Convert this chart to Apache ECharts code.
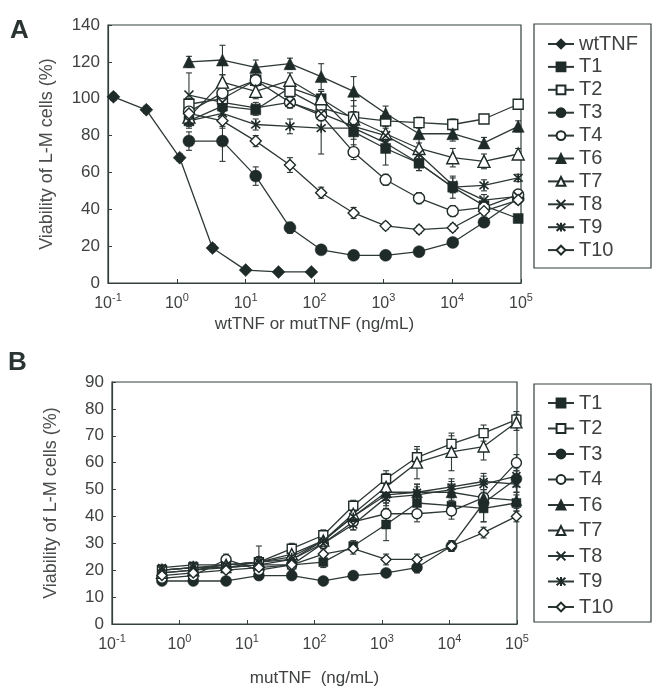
<!DOCTYPE html>
<html>
<head>
<meta charset="utf-8">
<script src="https://cdn.jsdelivr.net/npm/echarts@6/dist/echarts.min.js"></script>
<style>
html, body { margin: 0; padding: 0; background: #fff; }
#chart { width: 653px; height: 692px; }
</style>
</head>
<body>
<div id="chart"></div>
<script>
// ---- panel A data ----
var wtX = [0.12, 0.36, 1.1, 3.3, 10, 30, 90];
var wtY = [101, 94, 68, 19, 7, 6, 6];
var wtErr = [2, 2, 2, 2, 1, 1, 1];

var xA = [1.5, 4.6, 14, 44, 125, 370, 1080, 3300, 10200, 29000, 91000];
var aT1 = [88, 96, 94, 106, 100, 82, 73, 65, 52, 42, 35];
var aT2 = [97, 100, 110, 104, 95, 90, 88, 87, 86, 89, 97];
var aT3 = [77, 77, 58, 30, 18, 15, 15, 17, 22, 33, 46];
var aT4 = [93, 103, 110, 98, 91, 71, 56, 46, 39, 41, 48];
var aT6 = [120, 121, 117, 119, 112, 104, 92, 81, 81, 76, 85];
var aT7 = [90, 109, 104, 110, 100, 89, 81, 73, 68, 66, 70];
var aT8 = [102, 98, 95, 98, 92, 85, 80, 70, 53, 45, 47];
var aT9 = [88, 92, 86, 85, 84, 84, 76, 65, 52, 53, 57];
var aT10 = [92, 88, 77, 64, 49, 38, 31, 29, 30, 39, 45];

var eT1 = [3, 3, 3, 4, 4, 4, 9, 4, 3, 3, 2];
var eT2 = [3, 3, 3, 3, 3, 3, 3, 3, 3, 2, 2];
var eT3 = [5, 11, 5, 3, 2, 2, 2, 2, 2, 2, 2];
var eT4 = [3, 3, 3, 3, 3, 4, 3, 3, 3, 3, 2];
var eT6 = [3, 8, 4, 3, 7, 8, 4, 8, 4, 3, 3];
var eT7 = [3, 4, 4, 4, 4, 4, 4, 3, 5, 4, 3];
var eT8 = [12, 3, 3, 3, 3, 14, 4, 3, 4, 3, 2];
var eT9 = [4, 8, 3, 4, 14, 3, 3, 4, 6, 3, 2];
var eT10 = [3, 3, 3, 4, 3, 3, 2, 2, 2, 2, 2];

// ---- panel B data ----
var xB = [0.55, 1.6, 4.9, 15, 46, 135, 375, 1150, 3300, 10700, 32000, 98000];
var bT1 = [19, 20, 21, 22, 22, 23, 29, 37, 45, 44, 43, 45];
var bT2 = [20, 21, 22, 23, 28, 33, 44, 54, 62, 67, 71, 76];
var bT3 = [16, 16, 16, 18, 18, 16, 18, 19, 21, 29, 45, 54];
var bT4 = [17, 18, 24, 20, 22, 30, 38, 41, 41, 42, 47, 60];
var bT6 = [20, 21, 21, 22, 24, 31, 40, 49, 49, 49, 47, 46];
var bT7 = [19, 20, 22, 23, 26, 31, 41, 51, 60, 64, 66, 75];
var bT8 = [20, 21, 21, 23, 24, 30, 37, 47, 48, 50, 52, 55];
var bT9 = [21, 22, 22, 23, 25, 31, 40, 48, 49, 51, 53, 52];
var bT10 = [18, 19, 20, 21, 22, 26, 28, 24, 24, 29, 34, 40];

var fT1 = [1, 1, 1, 2, 2, 2, 2, 6, 3, 3, 5, 3];
var fT2 = [1, 1, 1, 1, 2, 2, 2, 3, 3, 3, 3, 3];
var fT3 = [1, 1, 1, 1, 1, 1, 1, 1, 2, 2, 7, 3];
var fT4 = [1, 1, 2, 2, 2, 2, 3, 4, 3, 3, 3, 3];
var fT6 = [1, 1, 1, 2, 2, 2, 2, 3, 3, 3, 3, 3];
var fT7 = [1, 1, 1, 2, 2, 2, 4, 5, 6, 7, 5, 3];
var fT8 = [1, 1, 1, 2, 2, 2, 2, 3, 3, 3, 3, 3];
var fT9 = [1, 1, 1, 6, 2, 2, 2, 3, 3, 3, 3, 3];
var fT10 = [1, 1, 1, 1, 1, 1, 2, 2, 2, 2, 2, 2];

var ink = '#1f2b29';
var lineCol = '#2e3836';
var axisCol = '#33403e';
var textCol = '#3f4241';

var crossPath = 'path://M0,0L10,10M10,0L0,10';
var starPath = 'path://M0,0L10,10M10,0L0,10M5,-1L5,11';

// marker styles per series
var styles = {
  'wtTNF': { symbol: 'diamond', open: false, size: 13 },
  'T1': { symbol: 'rect', open: false, size: 10 },
  'T2': { symbol: 'rect', open: true, size: 10 },
  'T3': { symbol: 'circle', open: false, size: 12 },
  'T4': { symbol: 'circle', open: true, size: 11 },
  'T6': { symbol: 'triangle', open: false, size: 12 },
  'T7': { symbol: 'triangle', open: true, size: 12 },
  'T8': { symbol: crossPath, open: false, size: 9, stroke: true },
  'T9': { symbol: starPath, open: false, size: 9, stroke: true },
  'T10': { symbol: 'diamond', open: true, size: 11 }
};

function pairs(xs, ys) {
  return xs.map(function (x, i) { return [x, ys[i]]; });
}

function lineSeries(name, xs, ys, gi, scale) {
  var st = styles[name];
  return {
    name: name,
    type: 'line',
    xAxisIndex: gi,
    yAxisIndex: gi,
    data: pairs(xs, ys),
    symbol: st.symbol,
    symbolSize: Math.round(st.size * scale),
    showAllSymbol: true,
    lineStyle: { color: lineCol, width: 1.3 },
    itemStyle: {
      color: st.open ? '#ffffff' : ink,
      borderColor: ink,
      borderWidth: st.stroke ? 1.6 : (st.open ? 1.4 : 0.5)
    },
    emphasis: { disabled: true },
    z: 3
  };
}

function errData(xs, ys, es) {
  return xs.map(function (x, i) { return [x, ys[i], es[i]]; });
}

function errRender(params, api) {
  var x = api.value(0), y = api.value(1), e = api.value(2);
  if (!e) return null;
  var hi = api.coord([x, y + e]);
  var lo = api.coord([x, y - e]);
  var w = 3;
  var st = { stroke: lineCol, lineWidth: 1.1 };
  return {
    type: 'group',
    children: [
      { type: 'line', shape: { x1: hi[0], y1: hi[1], x2: lo[0], y2: lo[1] }, style: st },
      { type: 'line', shape: { x1: hi[0] - w, y1: hi[1], x2: hi[0] + w, y2: hi[1] }, style: st },
      { type: 'line', shape: { x1: lo[0] - w, y1: lo[1], x2: lo[0] + w, y2: lo[1] }, style: st }
    ]
  };
}

var errA = [].concat(
  errData(wtX, wtY, wtErr),
  errData(xA, aT1, eT1), errData(xA, aT2, eT2), errData(xA, aT3, eT3),
  errData(xA, aT4, eT4), errData(xA, aT6, eT6), errData(xA, aT7, eT7),
  errData(xA, aT8, eT8), errData(xA, aT9, eT9), errData(xA, aT10, eT10)
);
var errB = [].concat(
  errData(xB, bT1, fT1), errData(xB, bT2, fT2), errData(xB, bT3, fT3),
  errData(xB, bT4, fT4), errData(xB, bT6, fT6), errData(xB, bT7, fT7),
  errData(xB, bT8, fT8), errData(xB, bT9, fT9), errData(xB, bT10, fT10)
);

function xAxisCfg(gi, title, nameGap) {
  return {
    type: 'log',
    logBase: 10,
    gridIndex: gi,
    min: 0.1,
    max: 100000,
    name: title,
    nameLocation: 'middle',
    nameGap: nameGap,
    nameTextStyle: { color: textCol, fontSize: 17, fontFamily: 'Liberation Sans' },
    axisLine: { lineStyle: { color: axisCol, width: 1.2 } },
    axisTick: { inside: true, length: 4, lineStyle: { color: axisCol } },
    minorTick: { show: false },
    splitLine: { show: false },
    axisLabel: {
      margin: 9,
      showMinLabel: true,
      showMaxLabel: true,
      formatter: function (v) {
        var p = Math.round(Math.log(v) / Math.LN10);
        return '{b|10}{s|' + p + '}';
      },
      rich: {
        b: { fontSize: 16, color: textCol, fontFamily: 'Liberation Sans', lineHeight: 20, verticalAlign: 'bottom' },
        s: { fontSize: 11, color: textCol, fontFamily: 'Liberation Sans', lineHeight: 20, verticalAlign: 'top' }
      }
    }
  };
}

function yAxisCfg(gi, max, step) {
  return {
    type: 'value',
    gridIndex: gi,
    min: 0,
    max: max,
    interval: step,
    name: 'Viability of L-M cells (%)',
    nameLocation: 'middle',
    nameGap: 52,
    nameTextStyle: { color: '#4a4d4c', fontSize: 18, fontFamily: 'Liberation Sans' },
    axisLine: { show: true, lineStyle: { color: axisCol, width: 1.2 } },
    axisTick: { show: true, inside: true, length: 4, lineStyle: { color: axisCol } },
    splitLine: { show: false },
    axisLabel: { color: textCol, fontSize: 17, fontFamily: 'Liberation Sans', margin: 8 }
  };
}

var namesA = ['wtTNF', 'T1', 'T2', 'T3', 'T4', 'T6', 'T7', 'T8', 'T9', 'T10'];
var namesB = ['T1', 'T2', 'T3', 'T4', 'T6', 'T7', 'T8', 'T9', 'T10'];
var seriesA = [aT1, aT2, aT3, aT4, aT6, aT7, aT8, aT9, aT10];
var seriesB = [bT1, bT2, bT3, bT4, bT6, bT7, bT8, bT9, bT10];

var series = [];
series.push({ type: 'custom', xAxisIndex: 0, yAxisIndex: 0, renderItem: errRender, data: errA, encode: { x: 0, y: 1 }, z: 1, silent: true });
series.push({ type: 'custom', xAxisIndex: 1, yAxisIndex: 1, renderItem: errRender, data: errB, encode: { x: 0, y: 1 }, z: 1, silent: true });
series.push(lineSeries('wtTNF', wtX, wtY, 0, 1));
namesB.forEach(function (n, i) { series.push(lineSeries(n, xA, seriesA[i], 0, 1)); });
namesB.forEach(function (n, i) { series.push(lineSeries(n, xB, seriesB[i], 1, 0.9)); });

function legendCfg(names, top, gap) {
  return {
    data: names,
    orient: 'vertical',
    left: 547,
    top: top,
    padding: 0,
    itemGap: gap,
    itemWidth: 26,
    itemHeight: 11,
    selectedMode: false,
    textStyle: { color: textCol, fontSize: 20, fontFamily: 'Liberation Sans', lineHeight: 22 }
  };
}

var chart = echarts.init(document.getElementById('chart'), null, { renderer: 'canvas' });
chart.setOption({
  animation: false,
  backgroundColor: '#ffffff',
  grid: [
    { left: 108, top: 25, width: 413, height: 258, show: true, borderColor: axisCol, borderWidth: 1.2, backgroundColor: 'transparent' },
    { left: 112, top: 382, width: 405, height: 242, show: true, borderColor: axisCol, borderWidth: 1.2, backgroundColor: 'transparent' }
  ],
  xAxis: [
    xAxisCfg(0, 'wtTNF or mutTNF (ng/mL)', 33),
    xAxisCfg(1, 'mutTNF  (ng/mL)', 46)
  ],
  yAxis: [
    yAxisCfg(0, 140, 20),
    yAxisCfg(1, 90, 10)
  ],
  legend: [
    legendCfg(namesA, 33, 0.9),
    legendCfg(namesB, 392, 3.5)
  ],
  graphic: [
    { type: 'rect', shape: { x: 534, y: 24, width: 117, height: 244 }, style: { fill: 'none', stroke: axisCol, lineWidth: 1.2 } },
    { type: 'rect', shape: { x: 534, y: 384, width: 117, height: 238 }, style: { fill: 'none', stroke: axisCol, lineWidth: 1.2 } },
    { type: 'text', left: 10, top: 18, style: { text: 'A', fontSize: 26, fontWeight: 'bold', fill: '#2a3533', fontFamily: 'Liberation Sans' } },
    { type: 'text', left: 8, top: 350, style: { text: 'B', fontSize: 26, fontWeight: 'bold', fill: '#2a3533', fontFamily: 'Liberation Sans' } }
  ],
  series: series
});
</script>
</body>
</html>
